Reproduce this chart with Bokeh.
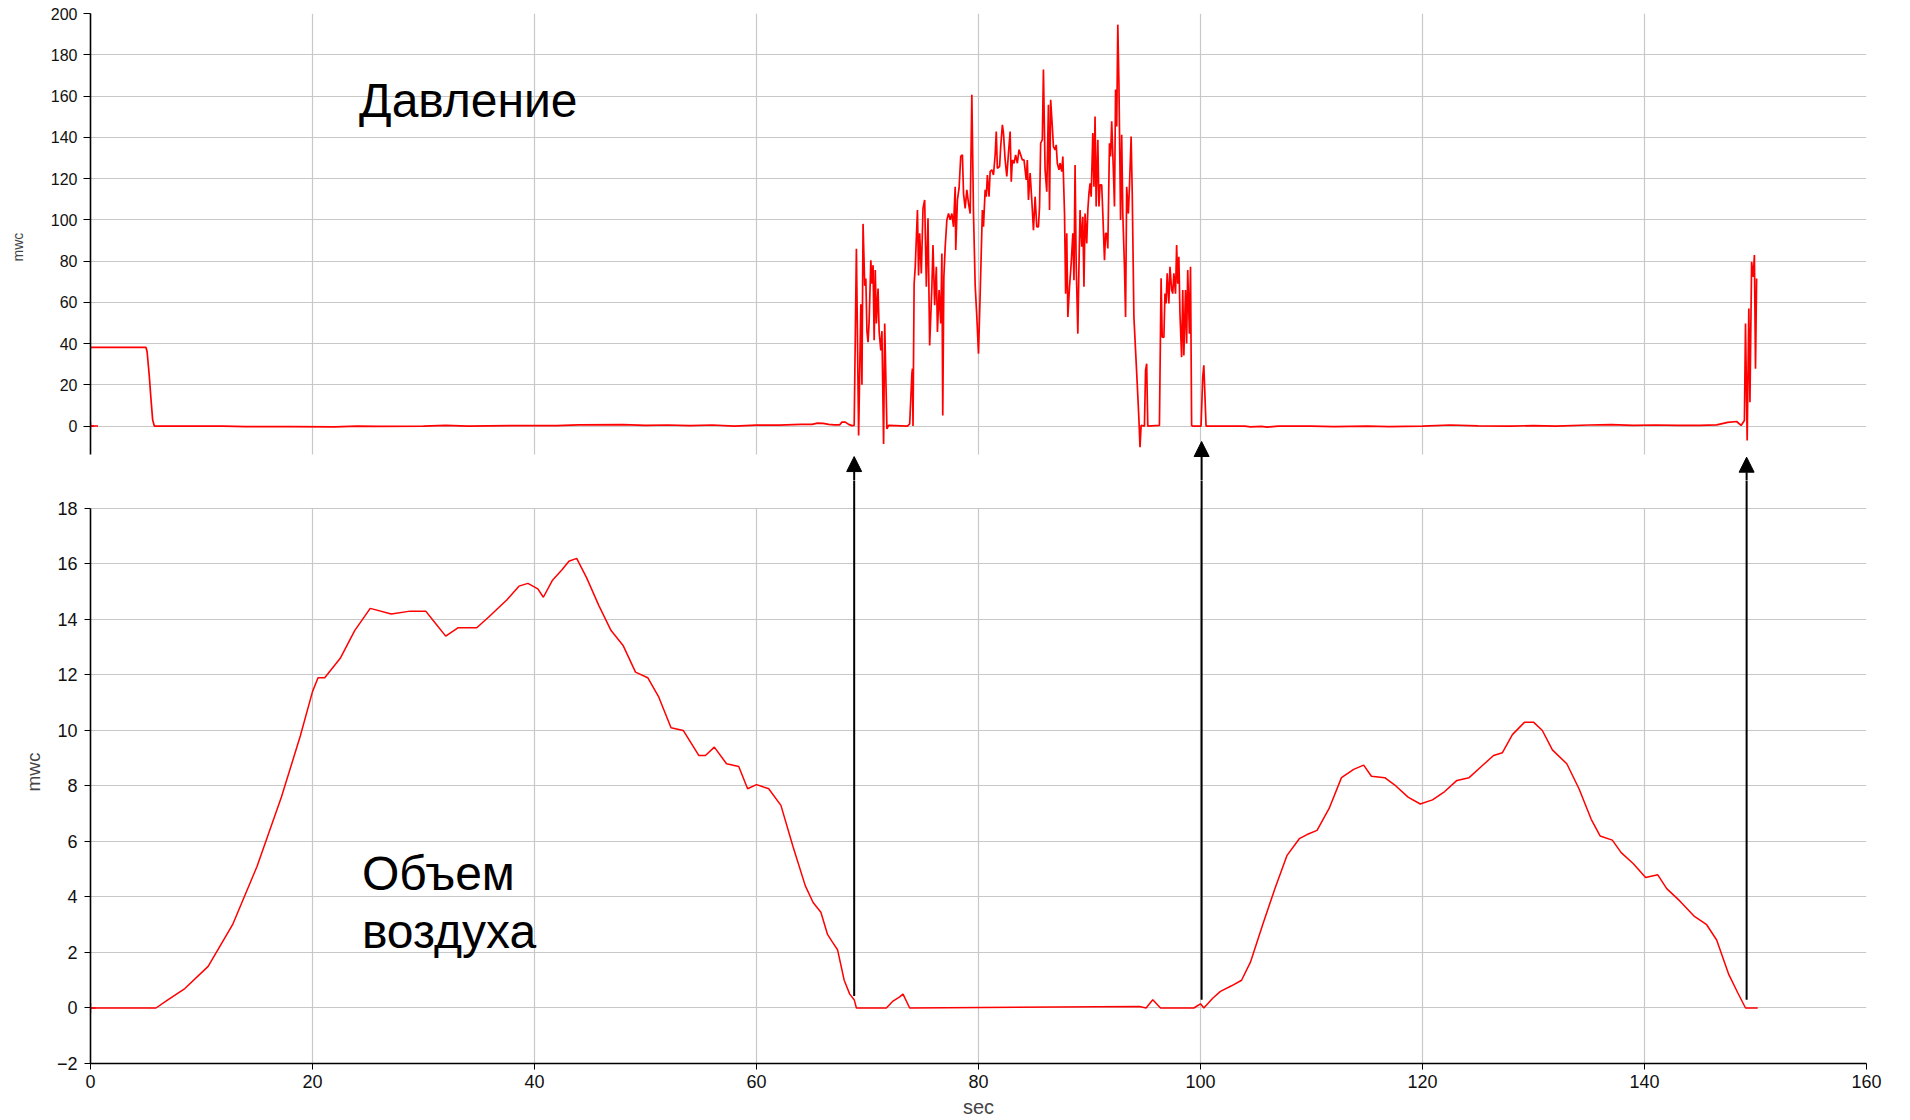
from bokeh.plotting import figure
from bokeh.layouts import column
from bokeh.models import Range1d, FixedTicker, Grid, Arrow, NormalHead, ColumnDataSource, Label
from bokeh.embed import file_html
from bokeh.resources import INLINE

# ---------------- data ----------------
pressure_t = [
    0, 5.0, 5.1, 5.3, 5.45, 5.6, 5.75, 8, 12, 14,
    18, 22, 24, 26, 30, 32, 34, 38, 42, 44,
    48, 50, 52, 54, 56, 58, 60, 62, 64, 65,
    65.5, 66, 66.5, 67, 67.5, 67.7, 68, 68.3, 68.6, 68.8,
    69.0, 69.2, 69.4, 69.5, 69.6, 69.75, 69.85, 69.95, 70.05, 70.15,
    70.3, 70.4, 70.5, 70.6, 70.7, 70.8, 70.95, 71.05, 71.2, 71.3,
    71.45, 71.55, 71.75, 71.9, 73.6, 73.8, 74.0, 74.05, 74.1, 74.2,
    74.3, 74.5, 74.6, 74.7, 74.85, 75.0, 75.15, 75.3, 75.45, 75.6,
    75.8, 75.9, 76.05, 76.2, 76.3, 76.45, 76.6, 76.7, 76.78, 76.88,
    77.0, 77.15, 77.3, 77.45, 77.6, 77.75, 77.9, 77.95, 78.1, 78.25,
    78.4, 78.55, 78.65, 78.8, 78.95, 79.1, 79.25, 79.4, 79.55, 79.7,
    79.85, 80.0, 80.15, 80.35, 80.45, 80.6, 80.7, 80.8, 80.95, 81.05,
    81.2, 81.35, 81.5, 81.6, 81.7, 81.9, 82.0, 82.15, 82.25, 82.4,
    82.55, 82.7, 82.85, 82.95, 83.05, 83.2, 83.35, 83.5, 83.65, 83.8,
    83.95, 84.1, 84.3, 84.4, 84.5, 84.65, 84.8, 84.95, 85.1, 85.25,
    85.4, 85.5, 85.6, 85.75, 85.85, 86.0, 86.15, 86.3, 86.4, 86.5,
    86.65, 86.75, 86.9, 87.0, 87.1, 87.25, 87.35, 87.5, 87.6, 87.75,
    87.85, 87.95, 88.05, 88.2, 88.35, 88.5, 88.6, 88.7, 88.8, 88.95,
    89.05, 89.15, 89.3, 89.4, 89.5, 89.6, 89.75, 89.85, 89.95, 90.05,
    90.15, 90.3, 90.4, 90.5, 90.6, 90.75, 90.85, 90.95, 91.1, 91.2,
    91.35, 91.45, 91.55, 91.65, 91.8, 91.9, 92.0, 92.15, 92.25, 92.35,
    92.45, 92.55, 92.65, 92.8, 92.9, 93.0, 93.15, 93.25, 93.35, 93.5,
    93.6, 93.75, 93.85, 94.0, 94.15, 94.3, 94.45, 94.55, 94.65, 94.95,
    95.05, 95.15, 95.25, 96.3, 96.45, 96.55, 96.7, 96.8, 96.9, 97.0,
    97.15, 97.25, 97.4, 97.5, 97.6, 97.75, 97.85, 97.95, 98.05, 98.15,
    98.3, 98.4, 98.5, 98.65, 98.75, 98.85, 99.0, 99.1, 99.2, 99.3,
    100.05, 100.2, 100.3, 100.5, 101, 104, 104.5, 105.5, 106, 107,
    110, 112, 115, 117, 120, 122.5, 125, 128, 130, 132,
    135, 137, 139, 141, 143, 145, 146.5, 147.5, 148.3, 148.7,
    149.0, 149.1, 149.25, 149.4, 149.5, 149.65, 149.8, 149.9, 150.0, 150.1,
]
pressure_mwc = [
    38.1, 38.1, 36, 24, 13, 3, 0, 0, 0, -0.3,
    -0.3, -0.4, 0, -0.2, 0, 0.3, 0, 0.2, 0.2, 0.6,
    0.7, 0.3, 0.5, 0.2, 0.5, 0, 0.4, 0.4, 0.8, 0.8,
    1.4, 1.3, 0.8, 0.6, 0.6, 1.9, 1.9, 0.8, 0.2, 0.3,
    86, -4.6, 59, 20, 98, 68, 71.5, 46, 40.7, 51,
    80.4, 69, 78, 41.6, 75.6, 49.7, 66.7, 45.6, 36.7, 46,
    -8.7, 49.7, -1.4, 0.3, 0, 1, 25.4, 27.8, 0, 69,
    77, 104.7, 73, 93.4, 74, 105.5, 109.6, 67.5, 100.7, 39.1,
    67.5, 87.7, 58.6, 77.2, 45.6, 65.9, 49.7, 83.7, 5.1, 72.3,
    86.9, 99.9, 103, 100, 103, 96.6, 116, 85.3, 109.6, 115.3,
    130.7, 131.5, 112.8, 105.5, 114.5, 108, 103, 160.6, 103, 68.3,
    52.9, 35.1, 64.2, 104.7, 96.6, 114.5, 111.2, 121.7, 111.2, 123.4,
    124.2, 121.7, 131.5, 142.8, 125, 125.8, 135.5, 146, 142, 129,
    121, 132.3, 142.8, 118.5, 129, 127.4, 131.5, 127.4, 134, 131.5,
    129, 129, 119.3, 129, 109.6, 122.6, 109.6, 95, 111.2, 96.6,
    96.6, 106.4, 137.1, 138.8, 172.8, 124.2, 113.6, 155.8, 104.7, 158.2,
    145.2, 135.5, 133.9, 136.3, 127.4, 124.2, 127.4, 123.4, 130.7, 103,
    64.2, 93.4, 52.9, 67.5, 78.8, 93.4, 70.7, 126.6, 78.8, 44.8,
    77.2, 104.7, 86.9, 101.5, 67.5, 103, 88.5, 104.7, 112.8, 117.7,
    111.2, 142, 116, 150.1, 106.4, 138.8, 106.4, 116.9, 116.9, 103,
    80.4, 93.4, 93.4, 86.1, 137.1, 130.7, 147.7, 124.2, 106.4, 163.1,
    145.2, 194.6, 166.3, 99.9, 141.2, 103, 77.2, 52.9, 116, 103,
    116, 140.4, 112.8, 52.9, 36.7, 20.5, 3.5, -10.3, 0.3, 0,
    27, 30.2, 0, 0.3, 71.6, 43.2, 42.9, 64.2, 59.4, 74,
    59.4, 77.2, 65.9, 64.2, 74, 64.2, 87.7, 69, 82.1, 54.5,
    33.4, 65.9, 34.2, 65.9, 40, 75.6, 44.8, 77.2, 0.3, 0,
    0, 23.7, 29.4, 0, 0, 0, -0.4, -0.2, -0.5, 0,
    0, -0.3, 0, -0.3, 0, 0.5, 0.1, 0, 0.2, 0,
    0.5, 0.7, 0.3, 0.5, 0.3, 0.3, 0.6, 1.8, 2.2, 0.3,
    2.7, 49.7, -7, 57, 11.6, 79.6, 72.3, 82.9, 27.8, 71.5,
]

air_t = [
    0, 5.9, 7.0, 8.5, 10.6, 12.8, 15.0, 17.2, 18.9, 20.0,
    20.5, 21.1, 22.5, 23.8, 25.2, 27.1, 28.8, 30.2, 31.0, 32.0,
    33.1, 34.8, 35.9, 37.5, 38.6, 39.4, 40.3, 40.8, 41.6, 42.5,
    43.1, 43.8, 44.7, 45.8, 46.9, 48.0, 49.1, 50.2, 51.2, 52.3,
    53.4, 54.8, 55.4, 56.2, 57.3, 58.4, 59.2, 60.0, 61.1, 62.2,
    63.3, 64.4, 65.1, 65.8, 66.4, 66.8, 67.3, 67.9, 68.4, 68.8,
    69.0, 71.7, 72.3, 72.9, 73.2, 73.8, 94.5, 95.1, 95.7, 96.4,
    99.4, 100.0, 100.3, 101.1, 101.8, 102.8, 103.7, 104.5, 105.6, 106.7,
    107.8, 108.9, 109.6, 110.5, 111.6, 112.7, 113.8, 114.7, 115.4, 116.6,
    117.6, 118.7, 119.8, 120.9, 122.0, 123.1, 124.2, 125.3, 126.4, 127.2,
    128.1, 129.2, 130.0, 130.8, 131.7, 133.0, 134.1, 135.2, 136.0, 137.1,
    137.9, 139.0, 140.1, 141.2, 142.0, 143.2, 144.5, 145.6, 146.5, 147.6,
    148.4, 149.1, 150.2,
]
air_mwc = [
    0, 0, 0.3, 0.7, 1.5, 3.0, 5.1, 7.6, 9.8, 11.4,
    11.9, 11.9, 12.6, 13.6, 14.4, 14.2, 14.3, 14.3, 13.9, 13.4,
    13.7, 13.7, 14.1, 14.7, 15.2, 15.3, 15.1, 14.8, 15.4, 15.8,
    16.1, 16.2, 15.5, 14.5, 13.6, 13.05, 12.1, 11.9, 11.2, 10.1,
    10.0, 9.1, 9.1, 9.4, 8.8, 8.7, 7.9, 8.05, 7.9, 7.3,
    5.8, 4.4, 3.8, 3.45, 2.65, 2.4, 2.1, 1.0, 0.5, 0.3,
    0, 0, 0.25, 0.4, 0.5, 0, 0.05, 0, 0.3, 0,
    0, 0.15, 0, 0.35, 0.6, 0.8, 1.0, 1.65, 3.0, 4.3,
    5.5, 6.1, 6.25, 6.4, 7.2, 8.3, 8.6, 8.75, 8.35, 8.3,
    8.0, 7.6, 7.35, 7.5, 7.8, 8.2, 8.3, 8.7, 9.1, 9.2,
    9.85, 10.3, 10.3, 10.0, 9.3, 8.8, 7.9, 6.8, 6.2, 6.05,
    5.6, 5.2, 4.7, 4.8, 4.3, 3.85, 3.3, 3.0, 2.45, 1.2,
    0.55, 0, 0,
]

# arrows: time, start on the air curve, tip in pressure units
arrow_t = [68.8, 100.1, 149.2]
arrow_air = [0.43, 0.3, 0.3]
arrow_tip = [-14.8, -7.5, -15.1]

marker_t = [0]
marker_val = [0]

x_ticks = [0, 20, 40, 60, 80, 100, 120, 140, 160]
x_grid_ticks = [20, 40, 60, 80, 100, 120, 140, 160]
top_ticks = [0, 20, 40, 60, 80, 100, 120, 140, 160, 180, 200]
bottom_ticks = [-2, 0, 2, 4, 6, 8, 10, 12, 14, 16, 18]
bottom_grid_ticks = [0, 2, 4, 6, 8, 10, 12, 14, 16, 18]

# ---------------- style ----------------
FONT = "Liberation Sans"
RED = "#ff0000"
GRID = "#c8c8c8"
W = 1902
LEFT = 90
RIGHT = 36

x_range = Range1d(0, 160)

# ---------------- top: pressure ----------------
top = figure(width=W, height=480, x_range=x_range, y_range=Range1d(-26.4, 200),
             output_backend="svg", toolbar_location=None, x_axis_location=None,
             min_border_left=LEFT, min_border_right=RIGHT, min_border_top=13, min_border_bottom=0)
top.outline_line_color = None
top.grid.visible = False
top.add_layout(Grid(dimension=1, ticker=FixedTicker(ticks=top_ticks), grid_line_color=GRID, grid_line_width=1.2))
top.add_layout(Grid(dimension=0, ticker=FixedTicker(ticks=x_grid_ticks), grid_line_color=GRID,
                    grid_line_width=1.2, cross_bounds=(-14, 200)))
ya = top.yaxis[0]
ya.ticker = FixedTicker(ticks=top_ticks)
ya.bounds = (-14, 200)
ya.axis_label = "mwc"
ya.axis_label_text_font = FONT
ya.axis_label_text_font_style = "normal"
ya.axis_label_text_font_size = "14px"
ya.axis_label_standoff = 22
ya.major_label_text_font = FONT
ya.major_label_text_font_size = "16px"
ya.major_label_text_color = "#111111"
ya.major_label_standoff = 6
ya.major_tick_out = 7
ya.major_tick_in = 0
ya.minor_tick_out = 0
ya.minor_tick_in = 0
ya.axis_line_width = 1.6
ya.axis_line_color = "black"
ya.major_tick_line_color = "black"

top.line(pressure_t, pressure_mwc, line_color=RED, line_width=1.7)
top.scatter(marker_t, marker_val, marker="dash", size=15, line_color=RED, line_width=1.5)
top.scatter(marker_t, marker_val, marker="cross", size=7, line_color=RED, line_width=1.5)

arrow_src = ColumnDataSource(dict(x=arrow_t, y0=[top.y_range.start - 20] * len(arrow_t), y1=arrow_tip))
top.add_layout(Arrow(end=NormalHead(size=15, fill_color="black", line_color="black", line_width=1),
                     x_start="x", y_start="y0", x_end="x", y_end="y1", source=arrow_src,
                     line_width=2, line_color="black"))

top.add_layout(Label(x=24.2, y=157.8, text="Давление", text_font=FONT, text_font_size="48px",
                     text_baseline="alphabetic", text_color="black"))

# ---------------- bottom: air volume ----------------
bot = figure(width=W, height=640, x_range=x_range, y_range=Range1d(-2, 19.007),
             output_backend="svg", toolbar_location=None,
             min_border_left=LEFT, min_border_right=RIGHT, min_border_top=0, min_border_bottom=56)
bot.outline_line_color = None
bot.grid.visible = False
bot.add_layout(Grid(dimension=1, ticker=FixedTicker(ticks=bottom_grid_ticks), grid_line_color=GRID, grid_line_width=1.2))
bot.add_layout(Grid(dimension=0, ticker=FixedTicker(ticks=x_grid_ticks), grid_line_color=GRID,
                    grid_line_width=1.2, cross_bounds=(-2, 18)))

yb = bot.yaxis[0]
yb.ticker = FixedTicker(ticks=bottom_ticks)
yb.bounds = (-2, 18)
yb.axis_label = "mwc"
yb.axis_label_text_font = FONT
yb.axis_label_text_font_style = "normal"
yb.axis_label_text_font_size = "19px"
yb.axis_label_standoff = 10
yb.major_label_text_font = FONT
yb.major_label_text_font_size = "18px"
yb.major_label_text_color = "#111111"
yb.major_label_standoff = 7
yb.major_tick_out = 6
yb.major_tick_in = 0
yb.minor_tick_out = 0
yb.minor_tick_in = 0
yb.axis_line_width = 1.6
yb.axis_line_color = "black"

xb = bot.xaxis[0]
xb.ticker = FixedTicker(ticks=x_ticks)
xb.axis_label = "sec"
xb.axis_label_text_font = FONT
xb.axis_label_text_font_style = "normal"
xb.axis_label_text_font_size = "20px"
xb.axis_label_standoff = 5
xb.major_label_text_font = FONT
xb.major_label_text_font_size = "18px"
xb.major_label_text_color = "#111111"
xb.major_label_standoff = 5
xb.major_tick_out = 6
xb.major_tick_in = 0
xb.minor_tick_out = 0
xb.minor_tick_in = 0
xb.axis_line_width = 1.6
xb.axis_line_color = "black"

bot.line(air_t, air_mwc, line_color=RED, line_width=1.5)
bot.scatter(marker_t, marker_val, marker="cross", size=10, line_color=RED, line_width=1.5)
bot.segment(x0=arrow_t, y0=arrow_air, x1=arrow_t, y1=[bot.y_range.end + 5] * len(arrow_t),
            line_color="black", line_width=2)

bot.add_layout(Label(x=24.45, y=4.83, text="Объем", text_font=FONT, text_font_size="48px",
                     text_baseline="alphabetic", text_color="black"))
bot.add_layout(Label(x=24.45, y=2.75, text="воздуха", text_font=FONT, text_font_size="48px",
                     text_baseline="alphabetic", text_color="black"))

layout = column(top, bot, spacing=0)
open("out.html", "w").write(file_html(layout, INLINE))
